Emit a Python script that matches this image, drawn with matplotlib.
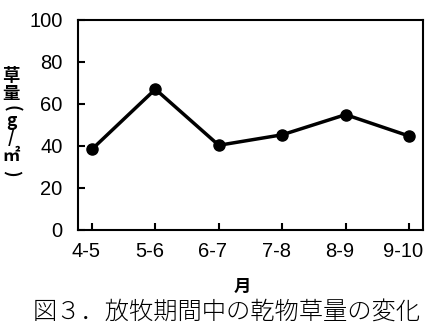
import matplotlib
matplotlib.use('Agg')
import matplotlib.pyplot as plt
import matplotlib.transforms as mtransforms

# dados
meses = ['4-5', '5-6', '6-7', '7-8', '8-9', '9-10']
materia_seca = [38.3, 66.9, 40.2, 45.2, 54.8, 44.6]
y_ticks = [0, 20, 40, 60, 80, 100]

plt.rcParams['font.family'] = ['Liberation Sans', 'Noto Sans CJK JP', 'DejaVu Sans']
cjk = ['Noto Sans CJK JP', 'DejaVu Sans']

fig = plt.figure(figsize=(4.44, 3.32), dpi=100)
ax = fig.add_axes([0.1757, 0.3081, 0.777, 0.6326])

x = list(range(len(meses)))
ax.plot(x, materia_seca, color='black', linewidth=2.5, marker='o', markersize=8)

ax.set_xlim(-0.22, 5.22)
ax.set_ylim(0, 100)
ax.set_yticks(y_ticks)
ax.set_xticks(x)
ax.set_xticklabels(meses)

for s in ax.spines.values():
    s.set_linewidth(1.5)
ax.tick_params(direction='in', length=5, width=1.5, labelsize=14.5)
ax.tick_params(axis='y', pad=11)
ax.tick_params(axis='x', pad=9)

# rótulos do eixo x deslocados um pouco para a esquerda
offset = mtransforms.ScaledTranslation(-6 / 100, 0, fig.dpi_scale_trans)
for lbl in ax.get_xticklabels():
    lbl.set_transform(lbl.get_transform() + offset)

# rótulo vertical do eixo y, um caractere por vez
ylabel_chars = [('草', 0, 76), ('量', 0, 94), ('(', -90, 108), ('g', 0, 121),
                ('/', 0, 138), ('㎡', 0, 156), (')', -90, 173)]
for ch, rot, ypx in ylabel_chars:
    fig.text(11 / 444, 1 - ypx / 332, ch, ha='center', va='center', rotation=rot,
             fontsize=12.5, fontweight='bold', family=cjk)

fig.text(242 / 444, 1 - 287 / 332, '月', ha='center', va='center',
         fontsize=12.5, fontweight='bold', family=cjk)

fig.text(227 / 444, 1 - 312 / 332, '図３．放牧期間中の乾物草量の変化', ha='center', va='center',
         fontsize=17.5, fontweight='light', family=cjk)

plt.savefig('out.png', dpi=100)
